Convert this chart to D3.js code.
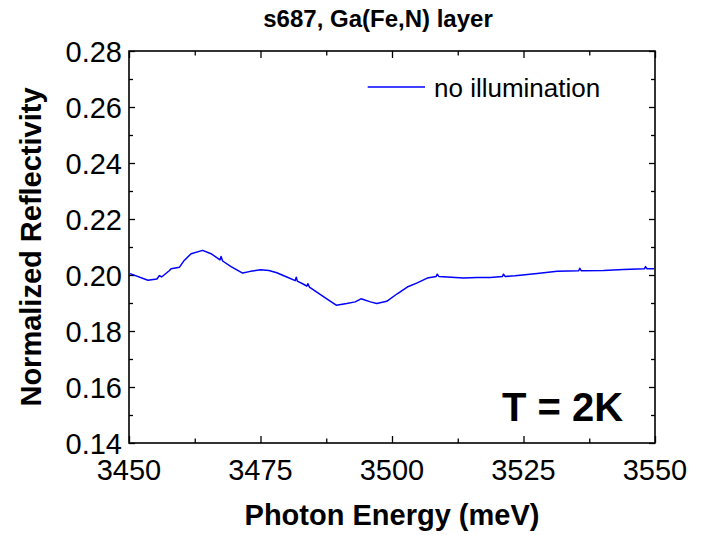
<!DOCTYPE html>
<html>
<head>
<meta charset="utf-8">
<script src="https://cdn.jsdelivr.net/npm/d3@7"></script>
<style>
  html, body { margin: 0; padding: 0; background: #fff; }
  svg text { font-family: "Liberation Sans", Arial, Helvetica, sans-serif; fill: #000; }
</style>
</head>
<body>
<svg id="chart" width="707" height="535"></svg>
<script>
// ---- data ----
const energy = [3450.2, 3453.6, 3455.3, 3455.8, 3456.2, 3457.7, 3458.0, 3459.6, 3460.5, 3461.8,
  3464.0, 3465.6, 3467.3, 3467.5, 3467.8, 3469.4, 3471.6, 3473.1, 3475.0, 3476.6,
  3478.1, 3480.0, 3481.6, 3481.8, 3482.0, 3483.2, 3483.8, 3484.0, 3484.3, 3485.7,
  3487.6, 3489.4, 3491.4, 3493.0, 3494.1, 3495.9, 3497.1, 3499.0, 3501.0, 3502.9,
  3504.8, 3506.7, 3508.4, 3508.6, 3508.9, 3510.5, 3513.6, 3516.2, 3518.7, 3521.0,
  3521.2, 3521.5, 3523.4, 3527.6, 3531.4, 3535.5, 3535.7, 3536.0, 3540.2, 3544.0,
  3548.0, 3548.2, 3548.5, 3549.8];
const reflectivity = [0.2005, 0.1981, 0.1986, 0.1998, 0.1993, 0.2016, 0.2022, 0.2028, 0.2052, 0.2076,
  0.2088, 0.2076, 0.2054, 0.2066, 0.2050, 0.2030, 0.2007, 0.2013, 0.2019, 0.2016,
  0.2008, 0.1993, 0.1980, 0.1992, 0.1978, 0.1967, 0.1960, 0.1969, 0.1957, 0.1939,
  0.1915, 0.1892, 0.1898, 0.1904, 0.1915, 0.1904, 0.1898, 0.1906, 0.1933, 0.1957,
  0.1972, 0.1989, 0.1995, 0.2003, 0.1995, 0.1993, 0.1989, 0.1991, 0.1991, 0.1995,
  0.2003, 0.1995, 0.1997, 0.2005, 0.2013, 0.2015, 0.2024, 0.2015, 0.2016, 0.2020,
  0.2022, 0.2030, 0.2022, 0.2022];
const xTicks = [3450, 3475, 3500, 3525, 3550];
const xMinor = [3462.5, 3487.5, 3512.5, 3537.5];
const yTicks = [0.14, 0.16, 0.18, 0.20, 0.22, 0.24, 0.26, 0.28];
const yMinor = [0.15, 0.17, 0.19, 0.21, 0.23, 0.25, 0.27];
const titleText = "s687, Ga(Fe,N) layer";
const xLabel = "Photon Energy (meV)";
const yLabel = "Normalized Reflectivity";
const legendLabel = "no illumination";
const noteText = "T = 2K";

// ---- layout ----
const L = 129, R = 655, T = 51, B = 443;
const svg = d3.select("#chart");
const x = d3.scaleLinear().domain([3450, 3550]).range([L, R]);
const y = d3.scaleLinear().domain([0.14, 0.28]).range([B, T]);

// ticks (inward, all four sides)
function axisGroup(axis, tx, ty) {
  const g = svg.append("g").attr("transform", `translate(${tx},${ty})`).call(axis);
  g.select(".domain").remove();
  g.selectAll("text").remove();
  g.selectAll("line").attr("stroke", "#000").attr("stroke-width", 1.3);
  return g;
}
axisGroup(d3.axisBottom(x).tickValues(xTicks).tickSizeInner(-7).tickSizeOuter(0), 0, B);
axisGroup(d3.axisBottom(x).tickValues(xMinor).tickSizeInner(-4.5).tickSizeOuter(0), 0, B);
axisGroup(d3.axisTop(x).tickValues(xTicks).tickSizeInner(-7).tickSizeOuter(0), 0, T);
axisGroup(d3.axisTop(x).tickValues(xMinor).tickSizeInner(-4.5).tickSizeOuter(0), 0, T);
axisGroup(d3.axisLeft(y).tickValues(yTicks).tickSizeInner(-6).tickSizeOuter(0), L, 0);
axisGroup(d3.axisLeft(y).tickValues(yMinor).tickSizeInner(-4).tickSizeOuter(0), L, 0);
axisGroup(d3.axisRight(y).tickValues(yTicks).tickSizeInner(-6).tickSizeOuter(0), R, 0);
axisGroup(d3.axisRight(y).tickValues(yMinor).tickSizeInner(-4).tickSizeOuter(0), R, 0);

// frame
svg.append("rect").attr("x", L).attr("y", T).attr("width", R - L).attr("height", B - T)
  .attr("fill", "none").attr("stroke", "#000").attr("stroke-width", 1.6);

// tick labels
svg.append("g").selectAll("text").data(xTicks).join("text")
  .attr("x", d => x(d)).attr("y", 480).attr("text-anchor", "middle")
  .attr("font-size", 29).text(d => d);
svg.append("g").selectAll("text").data(yTicks).join("text")
  .attr("x", L - 7).attr("y", d => y(d) + 10.5).attr("text-anchor", "end")
  .attr("font-size", 29).text(d => d.toFixed(2));

// axis titles
svg.append("text").attr("x", (L + R) / 2).attr("y", 525).attr("text-anchor", "middle")
  .attr("font-size", 29).attr("font-weight", "bold").text(xLabel);
svg.append("text").attr("transform", `translate(41,${(T + B) / 2}) rotate(-90)`)
  .attr("text-anchor", "middle").attr("font-size", 29).attr("font-weight", "bold").text(yLabel);

// title
svg.append("text").attr("x", 378).attr("y", 27).attr("text-anchor", "middle")
  .attr("font-size", 24).attr("font-weight", "bold").text(titleText);

// data line
const line = d3.line().x((d, i) => x(energy[i])).y(d => y(d));
svg.append("path").datum(reflectivity).attr("d", line)
  .attr("fill", "none").attr("stroke", "#0000ff").attr("stroke-width", 1.5)
  .attr("stroke-linejoin", "round");

// legend
svg.append("line").attr("x1", 367.7).attr("x2", 425).attr("y1", 87).attr("y2", 87)
  .attr("stroke", "#0000ff").attr("stroke-width", 1.6);
svg.append("text").attr("x", 434).attr("y", 96.5).attr("font-size", 26).text(legendLabel);

// annotation
svg.append("text").attr("x", 502).attr("y", 421).attr("font-size", 40)
  .attr("font-weight", "bold").text(noteText);
</script>
</body>
</html>
